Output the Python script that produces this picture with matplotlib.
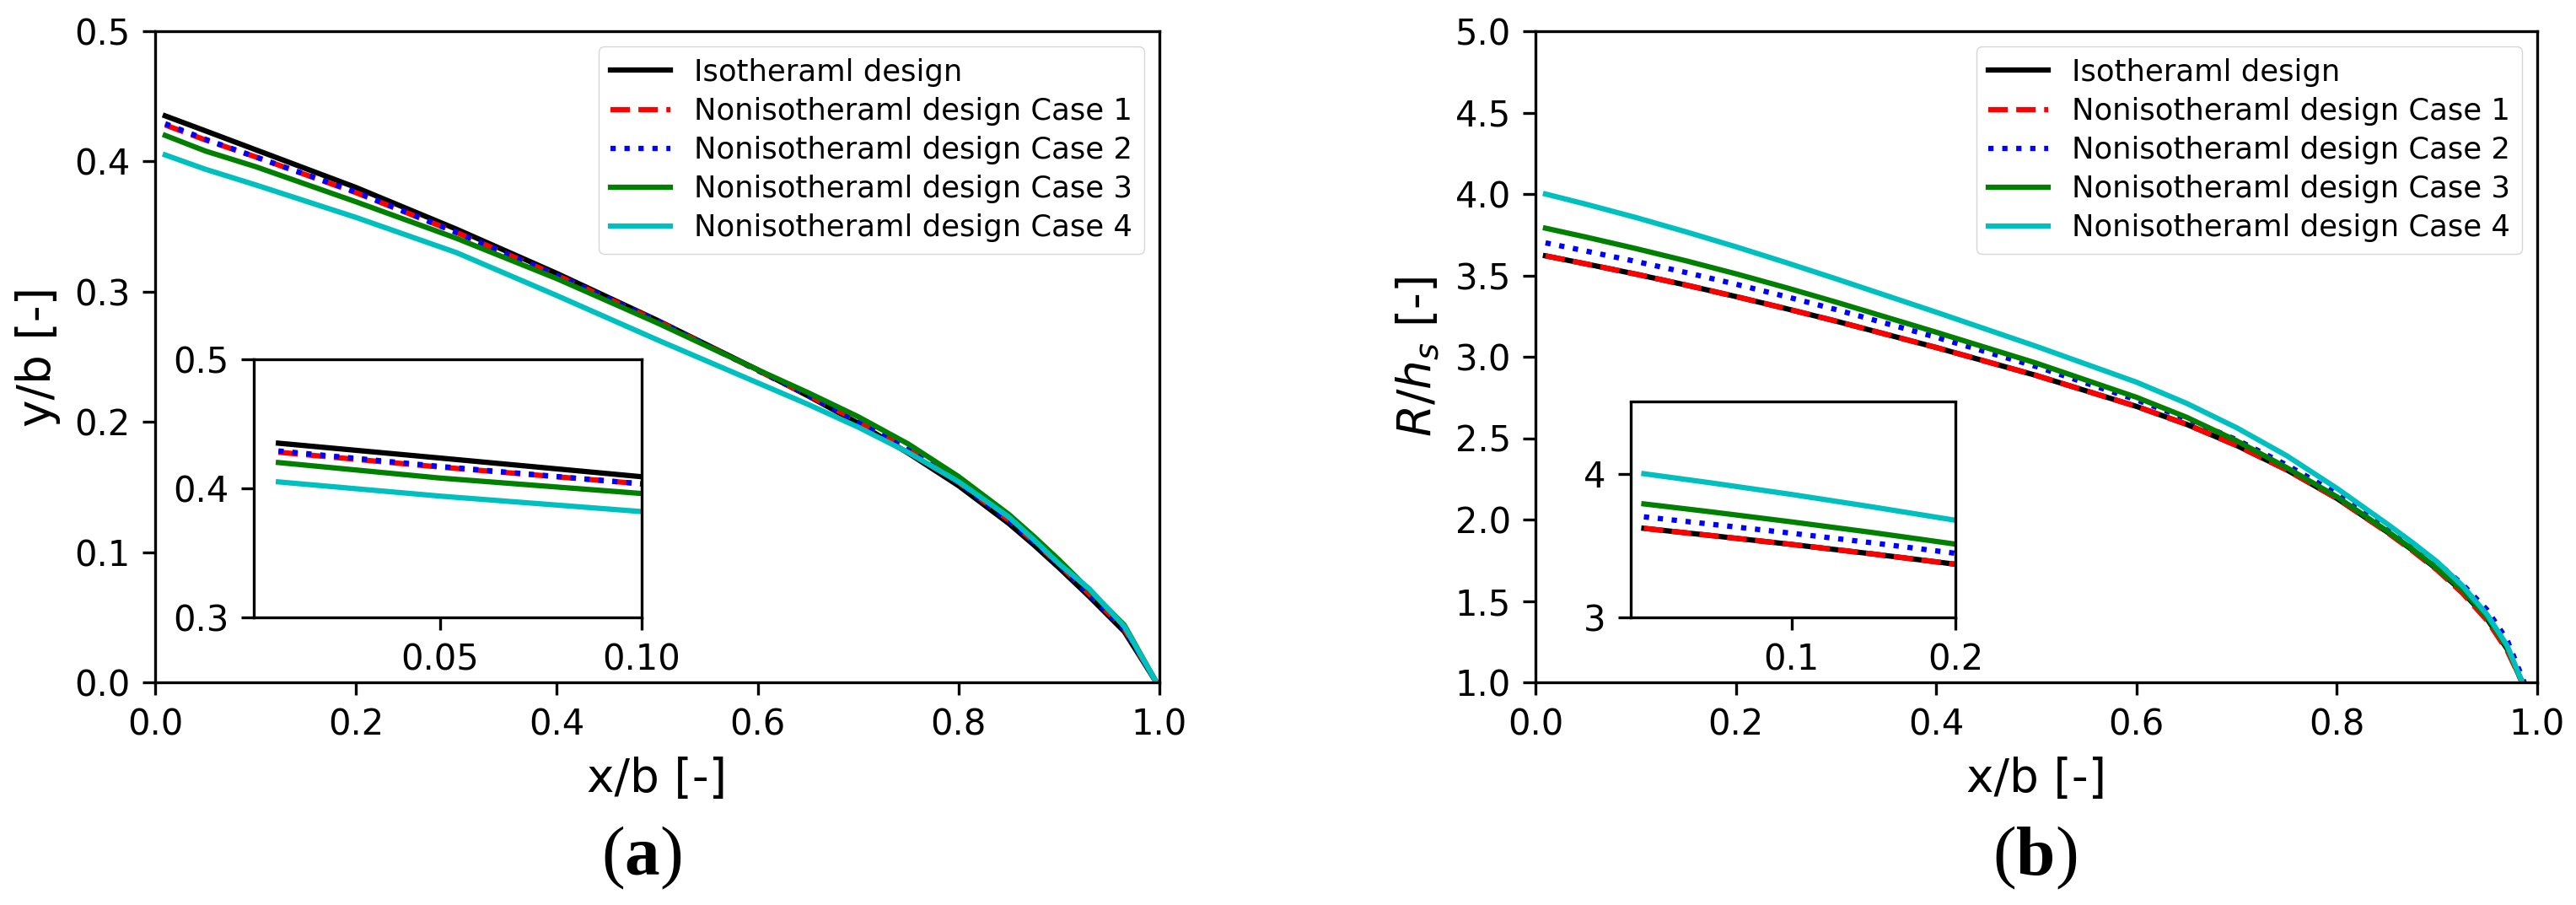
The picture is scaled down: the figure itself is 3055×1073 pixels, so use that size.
import matplotlib
matplotlib.use("Agg")
import matplotlib.pyplot as plt

# ---------------- data ----------------
labels = ["Isotheraml design", "Nonisotheraml design Case 1", "Nonisotheraml design Case 2",
          "Nonisotheraml design Case 3", "Nonisotheraml design Case 4"]

# panel (a): y/b versus x/b
xa = [0.01, 0.05, 0.1, 0.2, 0.3, 0.4, 0.5, 0.6, 0.65, 0.7, 0.75, 0.8, 0.85, 0.875, 0.9, 0.93, 0.965, 0.997]
ya_iso = [0.435, 0.4235, 0.409, 0.380, 0.348, 0.314, 0.278, 0.240, 0.220, 0.199, 0.176, 0.151, 0.122, 0.1055, 0.088, 0.066, 0.039, 0.0]
ya_c1 = [0.428, 0.4165, 0.4035, 0.376, 0.3455, 0.3125, 0.2775, 0.2395, 0.2205, 0.2005, 0.1785, 0.1535, 0.1245, 0.108, 0.0905, 0.068, 0.041, 0.0]
ya_c2 = [0.429, 0.417, 0.4035, 0.3765, 0.3455, 0.3125, 0.2775, 0.2395, 0.2205, 0.2005, 0.1785, 0.1535, 0.1245, 0.108, 0.0905, 0.068, 0.041, 0.0]
ya_c3 = [0.420, 0.408, 0.396, 0.369, 0.341, 0.310, 0.276, 0.240, 0.2225, 0.204, 0.183, 0.158, 0.129, 0.112, 0.094, 0.071, 0.044, 0.0]
ya_c4 = [0.405, 0.394, 0.382, 0.357, 0.330, 0.297, 0.263, 0.230, 0.2135, 0.196, 0.1765, 0.154, 0.127, 0.1095, 0.091, 0.072, 0.043, 0.0]

# panel (b): R/h_s versus x/b
xb = [0.01, 0.05, 0.1, 0.15, 0.2, 0.25, 0.3, 0.4, 0.5, 0.6, 0.65, 0.7, 0.75, 0.8, 0.85, 0.875, 0.9, 0.925, 0.95, 0.97, 0.985]
xb_c2 = [0.01, 0.05, 0.1, 0.15, 0.2, 0.25, 0.3, 0.4, 0.5, 0.6, 0.65, 0.7, 0.75, 0.8, 0.85, 0.875, 0.9, 0.925, 0.95, 0.97, 0.987]
yb_iso = [3.62, 3.571, 3.508, 3.441, 3.37, 3.296, 3.219, 3.057, 2.885, 2.695, 2.585, 2.455, 2.305, 2.13, 1.925, 1.815, 1.695, 1.56, 1.39, 1.205, 1.0]
yb_c1 = [3.62, 3.571, 3.508, 3.441, 3.37, 3.296, 3.219, 3.057, 2.885, 2.695, 2.585, 2.455, 2.305, 2.13, 1.922, 1.81, 1.69, 1.55, 1.38, 1.195, 1.0]
yb_c2 = [3.70, 3.65, 3.586, 3.518, 3.446, 3.37, 3.29, 3.12, 2.94, 2.735, 2.62, 2.49, 2.335, 2.16, 1.96, 1.85, 1.735, 1.605, 1.445, 1.26, 1.0]
yb_c3 = [3.79, 3.736, 3.665, 3.59, 3.51, 3.425, 3.336, 3.151, 2.961, 2.751, 2.6285, 2.4835, 2.3185, 2.14, 1.93, 1.82, 1.70, 1.57, 1.40, 1.215, 1.0]
yb_c4 = [4.00, 3.938, 3.856, 3.768, 3.676, 3.579, 3.479, 3.274, 3.064, 2.844, 2.714, 2.564, 2.392, 2.192, 1.974, 1.861, 1.741, 1.596, 1.416, 1.226, 1.0]

xticks_main = [0.0, 0.2, 0.4, 0.6, 0.8, 1.0]
yticks_a = [0.0, 0.1, 0.2, 0.3, 0.4, 0.5]
yticks_b = [1.0, 1.5, 2.0, 2.5, 3.0, 3.5, 4.0, 4.5, 5.0]
inset_a_xticks = [0.05, 0.10]
inset_a_xticklabels = ["0.05", "0.10"]
inset_a_yticks = [0.3, 0.4, 0.5]
inset_b_xticks = [0.1, 0.2]
inset_b_yticks = [3, 4]

colors = ["k", "r", "b", "g", "c"]
styles = ["-", "--", ":", "-", "-"]

# ---------------- style ----------------
plt.rcParams.update({
    "font.family": ["DejaVu Sans"],
    "font.size": 30,
    "mathtext.fontset": "custom",
    "mathtext.rm": "DejaVu Sans",
    "mathtext.it": "DejaVu Sans:italic",
    "mathtext.bf": "Liberation Serif:bold",
    "axes.labelsize": 39.5,
    "axes.linewidth": 2.4,
    "axes.labelpad": 12,
    "xtick.labelsize": 30,
    "ytick.labelsize": 30,
    "xtick.major.size": 10.5,
    "ytick.major.size": 10.5,
    "xtick.major.width": 2.4,
    "ytick.major.width": 2.4,
    "xtick.major.pad": 10.5,
    "ytick.major.pad": 10.5,
    "lines.linewidth": 4.5,
    "legend.fontsize": 25.5,
})

fig = plt.figure(figsize=(30.55, 10.73), dpi=100)

W, H = 3055.0, 1073.0
def rect(x0, x1, y0, y1):
    return [x0 / W, 1 - y1 / H, (x1 - x0) / W, (y1 - y0) / H]

ax_a = fig.add_axes(rect(184, 1375, 37, 809))
ax_b = fig.add_axes(rect(1821, 3009, 37, 809))
ins_a = fig.add_axes(rect(300.5, 761, 426, 732))
ins_b = fig.add_axes(rect(1934, 2319, 476.5, 732))

ya_all = [ya_iso, ya_c1, ya_c2, ya_c3, ya_c4]
yb_all = [yb_iso, yb_c1, yb_c2, yb_c3, yb_c4]
xb_all = [xb, xb, xb_c2, xb, xb]

for ys, c, s, lab in zip(ya_all, colors, styles, labels):
    ax_a.plot(xa, ys, color=c, linestyle=s, label=lab)
    ins_a.plot(xa, ys, color=c, linestyle=s)
for xs, ys, c, s, lab in zip(xb_all, yb_all, colors, styles, labels):
    ax_b.plot(xs, ys, color=c, linestyle=s, label=lab)
    ins_b.plot(xs, ys, color=c, linestyle=s)

ax_a.set_xlim(0, 1)
ax_a.set_ylim(0, 0.5)
ax_a.set_xticks(xticks_main)
ax_a.set_yticks(yticks_a)
ax_a.set_xlabel("x/b [-]")
ax_a.set_ylabel("y/b [-]")
ax_a.legend(loc="upper right", labelspacing=0.34)

ax_b.set_xlim(0, 1)
ax_b.set_ylim(1, 5)
ax_b.set_xticks(xticks_main)
ax_b.set_yticks(yticks_b)
ax_b.set_xlabel("x/b [-]")
ax_b.set_ylabel(r"$R/h_s$ [-]")
ax_b.legend(loc="upper right", labelspacing=0.34)

ins_a.set_xlim(0.0038, 0.1)
ins_a.set_ylim(0.3, 0.5)
ins_a.set_xticks(inset_a_xticks)
ins_a.set_xticklabels(inset_a_xticklabels)
ins_a.set_yticks(inset_a_yticks)

ins_b.set_xlim(0.002, 0.2)
ins_b.set_ylim(3, 4.5)
ins_b.set_xticks(inset_b_xticks)
ins_b.set_yticks(inset_b_yticks)

fig.text(761 / W, 1 - 1017 / H, r"($\mathbf{a}$)", ha="center", va="center",
         family="Liberation Serif", fontsize=60)
fig.text(2413 / W, 1 - 1017 / H, r"($\mathbf{b}$)", ha="center", va="center",
         family="Liberation Serif", fontsize=60)

fig.savefig("out.png", dpi=100)
